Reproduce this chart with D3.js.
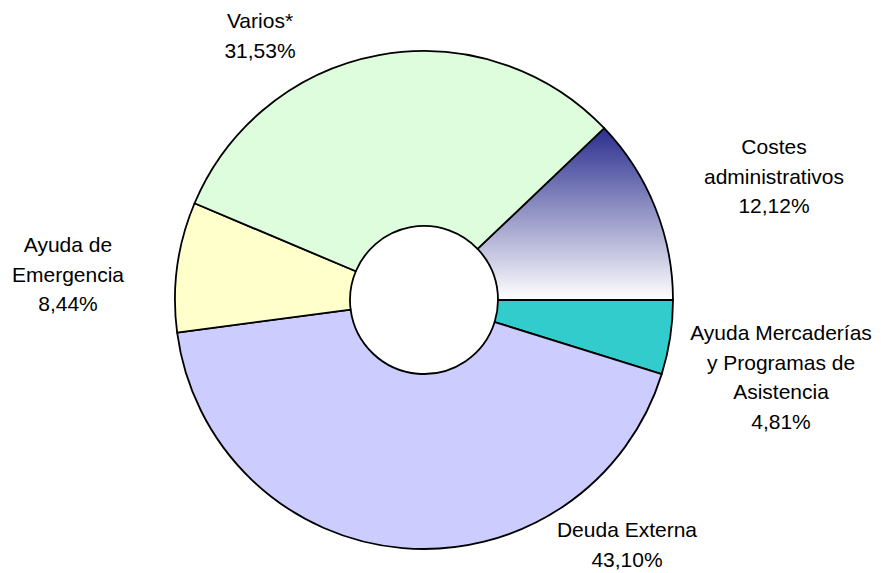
<!DOCTYPE html>
<html>
<head>
<meta charset="utf-8">
<script src="https://cdn.jsdelivr.net/npm/d3@7/dist/d3.min.js"></script>
<style>
html,body{margin:0;padding:0;background:#fff;}
svg{display:block;}
text{font-family:"Liberation Sans",Arial,sans-serif;font-size:21px;fill:#000;}
</style>
</head>
<body>
<svg id="chart" width="881" height="573"></svg>
<script>
// Data (clockwise order starting from upper right)
const categories = ["Costes administrativos", "Ayuda Mercaderías y Programas de Asistencia", "Deuda Externa", "Ayuda de Emergencia", "Varios*"];
const values = [12.12, 4.81, 43.10, 8.44, 31.53];
const labelLines = [
  ["Costes", "administrativos", "12,12%"],
  ["Ayuda Mercaderías", "y Programas de", "Asistencia", "4,81%"],
  ["Deuda Externa", "43,10%"],
  ["Ayuda de", "Emergencia", "8,44%"],
  ["Varios*", "31,53%"]
];

// Layout / style
const fills = ["url(#gradCostes)", "#33CCCC", "#CCCCFF", "#FFFFCC", "#DDFDDD"];
const labelAnchors = [[774, 154], [781, 340], [627, 537], [68, 252], [260, 28]];
const lineH = 29.6;
const cx = 424, cy = 300, R = 249, r = 74;

const svg = d3.select("#chart");
const defs = svg.append("defs");
const grad = defs.append("linearGradient")
  .attr("id", "gradCostes").attr("gradientUnits", "userSpaceOnUse")
  .attr("x1", 0).attr("y1", -R * Math.sin(values[0] / 100 * 2 * Math.PI))
  .attr("x2", 0).attr("y2", 0);
grad.append("stop").attr("offset", "0%").attr("stop-color", "#2B2E8F");
grad.append("stop").attr("offset", "100%").attr("stop-color", "#FFFFFF");

const total = d3.sum(values);
const start = Math.PI / 2 - values[0] / total * 2 * Math.PI;
const pie = d3.pie().sort(null).startAngle(start).endAngle(start + 2 * Math.PI);
const arc = d3.arc().innerRadius(r).outerRadius(R);

const g = svg.append("g").attr("transform", `translate(${cx},${cy})`);
g.selectAll("path.slice")
  .data(pie(values))
  .join("path")
  .attr("class", "slice")
  .attr("d", arc)
  .attr("fill", (d, i) => fills[i])
  .attr("stroke", "#000")
  .attr("stroke-width", 1.8)
  .attr("stroke-linejoin", "round");

const labels = svg.append("g");
labelLines.forEach((lines, i) => {
  const t = labels.append("text")
    .attr("text-anchor", "middle")
    .attr("x", labelAnchors[i][0])
    .attr("y", labelAnchors[i][1]);
  lines.forEach((ln, j) => {
    t.append("tspan").attr("x", labelAnchors[i][0])
      .attr("y", labelAnchors[i][1] + j * lineH).text(ln);
  });
});
</script>
</body>
</html>
